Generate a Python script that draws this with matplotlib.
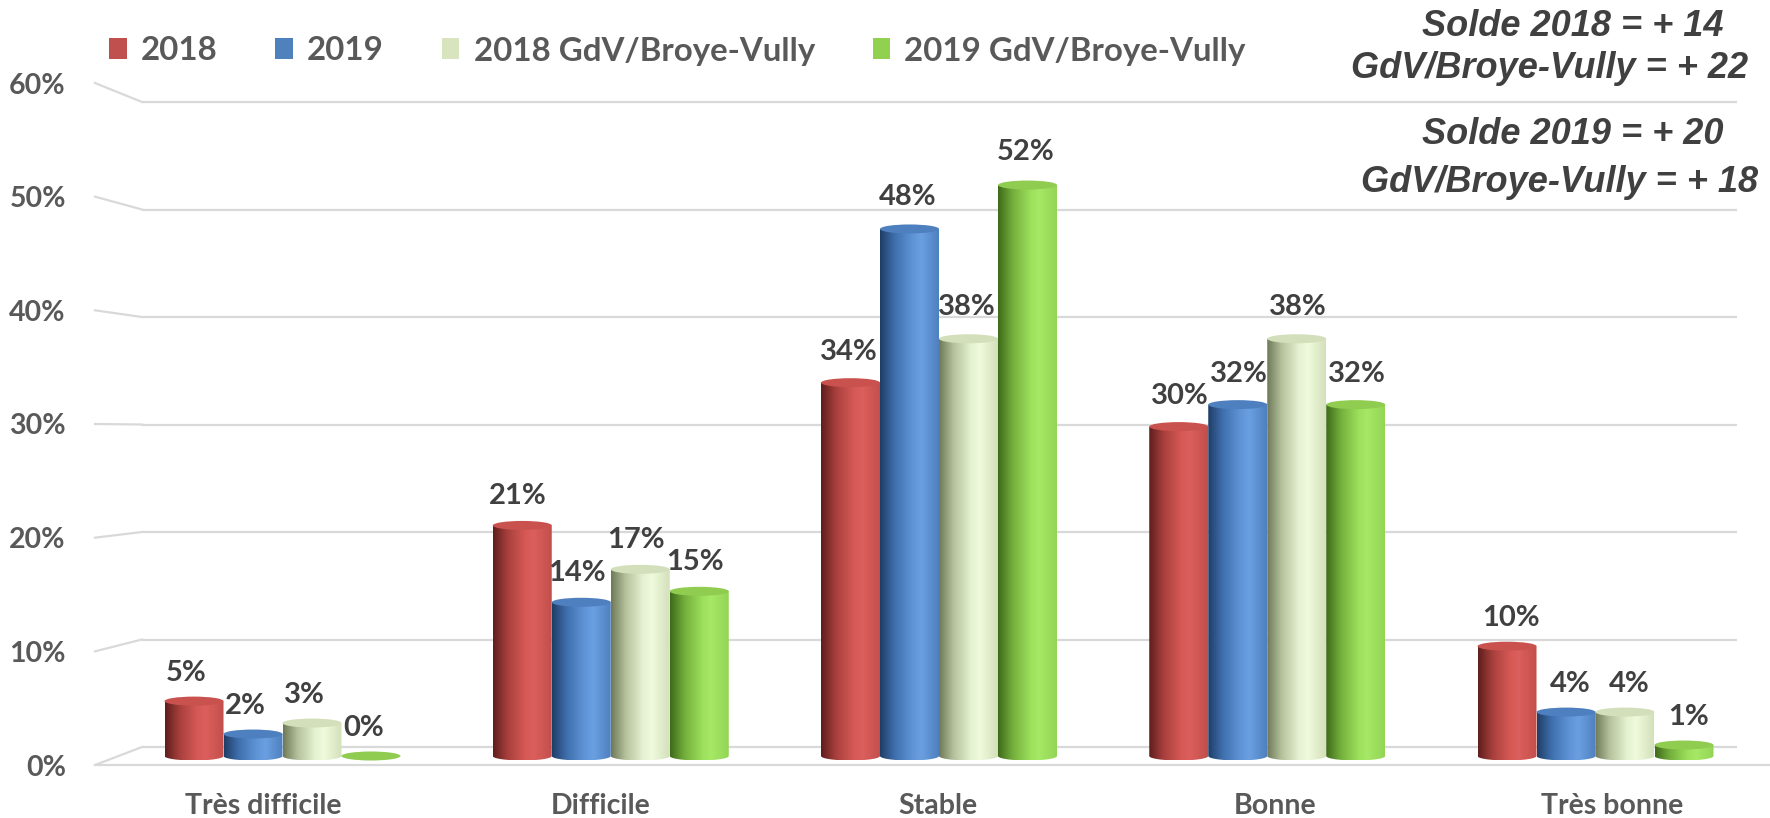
import numpy as np
import matplotlib
matplotlib.use('Agg')
import matplotlib.pyplot as plt
from matplotlib.colors import LinearSegmentedColormap
from matplotlib.patches import Ellipse, Patch, PathPatch
from matplotlib.path import Path
from matplotlib.lines import Line2D

# ---------------- data ----------------
categories = ['Très difficile', 'Difficile', 'Stable', 'Bonne', 'Très bonne']
series_names = ['2018', '2019', '2018 GdV/Broye-Vully', '2019 GdV/Broye-Vully']
v2018 = [5, 21, 34, 30, 10]
v2019 = [2, 14, 48, 32, 4]
v2018_gdv = [3, 17, 38, 38, 4]
v2019_gdv = [0, 15, 52, 32, 1]
yticks = [0, 10, 20, 30, 40, 50, 60]
solde_lines = ['Solde 2018 = + 14', 'GdV/Broye-Vully = + 22',
               'Solde 2019 = + 20', 'GdV/Broye-Vully = + 18']

series_values = [v2018, v2019, v2018_gdv, v2019_gdv]

# ---------------- styles ----------------
legend_colors = ['#C0504D', '#4F81BD', '#D7E4BD', '#92D050']
gradients = [
    ['#5E1E1C', '#A8403D', '#D65956', '#DB5F5C', '#C24E4B'],
    ['#1F3E66', '#3F6FAD', '#5E94D6', '#6AA0E2', '#4F80BE'],
    ['#6E7858', '#B5C29C', '#E6F2D2', '#EFFADC', '#D3E0BA'],
    ['#3E6A1A', '#74AF3C', '#9BDF5B', '#A6E966', '#93D454'],
]
grad_pos = [0.0, 0.25, 0.55, 0.7, 1.0]
top_colors = ['#C9524F', '#4E7FBF', '#D3DFBA', '#8FCC50']

FONT = 'Lato'
GRID = '#D9D9D9'
TXT = '#595959'
DLBL = '#404040'

W, H = 1770, 818
fig = plt.figure(figsize=(W / 100, H / 100), dpi=100)


def fx(px):
    return px / W


def fy(py):
    return 1 - py / H


# ---------------- back wall (gridlines) ----------------
ax_wall = fig.add_axes([fx(142), fy(747), fx(1737) - fx(142), fy(102) - fy(747)])
ax_wall.set_xlim(0, 1)
ax_wall.set_ylim(0, 60)
ax_wall.hlines(yticks, 0, 1, colors=GRID, lw=1.6, clip_on=False)
ax_wall.axis('off')

# ---------------- front plane (axis labels, floor line) ----------------
ax_front = fig.add_axes([fx(95), fy(765), fx(1770) - fx(95), fy(83) - fy(765)])
ax_front.set_ylim(0, 60)
ax_front.set_xlim(-0.5, 4.469)
ax_front.patch.set_alpha(0)
for s in ['top', 'right', 'left']:
    ax_front.spines[s].set_visible(False)
ax_front.spines['bottom'].set_color(GRID)
ax_front.spines['bottom'].set_linewidth(1.6)
ax_front.set_yticks(yticks)
ax_front.set_yticklabels([f'{t}%' for t in yticks])
ax_front.set_xticks(range(len(categories)))
ax_front.set_xticklabels(categories)
ax_front.tick_params(axis='y', length=0, pad=21)
ax_front.tick_params(axis='x', length=0, pad=20)
for lab in ax_front.get_yticklabels() + ax_front.get_xticklabels():
    lab.set_fontfamily(FONT)
    lab.set_fontweight('bold')
    lab.set_fontsize(20.5)
    lab.set_color(TXT)

# slanted connectors between front axis and back wall
inv = fig.transFigure.inverted()
for k in yticks:
    p_front = inv.transform(ax_front.transData.transform((-0.5, k)))
    p_back = inv.transform(ax_wall.transData.transform((0, k)))
    fig.add_artist(Line2D([p_front[0], p_back[0]], [p_front[1], p_back[1]],
                          transform=fig.transFigure, color=GRID, lw=1.6))

# ---------------- cylinders ----------------
ax_bar = fig.add_axes([0, 0, 1, 1])
ax_bar.patch.set_alpha(0)
ax_bar.axis('off')

bw = 59 / 328.25
eh = 4.5 / 10.98
grad_img = np.linspace(0, 1, 256).reshape(1, -1)
n = len(series_values)

for si, vals in enumerate(series_values):
    cmap = LinearSegmentedColormap.from_list(f'c{si}', list(zip(grad_pos, gradients[si])))
    for ci, v in enumerate(vals):
        xc = ci + (si - (n - 1) / 2) * bw
        x0, x1 = xc - bw / 2, xc + bw / 2
        if v > 0:
            t = np.linspace(np.pi, 2 * np.pi, 40)
            verts = [(x0, v), (x0, 0)] + [(xc + bw / 2 * np.cos(a), eh * np.sin(a)) for a in t] + [(x1, v), (x0, v)]
            codes = [Path.MOVETO] + [Path.LINETO] * (len(verts) - 2) + [Path.CLOSEPOLY]
            clip = PathPatch(Path(verts, codes), transform=ax_bar.transData)
            im = ax_bar.imshow(grad_img, cmap=cmap, extent=[x0, x1, -eh, v],
                               aspect='auto', origin='lower', interpolation='bilinear', zorder=2)
            im.set_clip_path(clip)
        ax_bar.add_patch(Ellipse((xc, v), bw, 2 * eh, facecolor=top_colors[si],
                                 edgecolor='none', zorder=3))
        gap_px = 4.5 + 15 + 0.1 * v
        dx_px = -7.5 + 2.9 * ci
        ax_bar.annotate(f'{v}%', xy=(xc, v), xytext=(dx_px * 0.72, gap_px * 0.72),
                        textcoords='offset points', ha='center', va='baseline',
                        fontsize=21, fontweight='bold', color=DLBL, family=FONT, zorder=4)

ax_bar.set_xlim((0 - 282.5) / 328.25, (W - 282.5) / 328.25)
ax_bar.set_ylim((756 - H) / 10.98, 756 / 10.98)

# ---------------- legend ----------------
handles = [Patch(facecolor=c, edgecolor='none') for c in legend_colors]
leg = fig.legend(handles, series_names, loc='center left', bbox_to_anchor=(fx(109), fy(51)),
                 ncol=4, frameon=False, borderpad=0, borderaxespad=0,
                 handlelength=0.53, handleheight=0.59, handletextpad=0.43,
                 columnspacing=1.75, prop={'family': FONT, 'weight': 'bold', 'size': 23.8})
for t in leg.get_texts():
    t.set_color(TXT)

# ---------------- solde annotations ----------------
solde_pos = [(1573, 27), (1550, 68), (1573, 134), (1560, 182)]
for txt, (px, py) in zip(solde_lines, solde_pos):
    fig.text(fx(px), fy(py), txt, ha='center', va='center', fontsize=26,
             fontweight='bold', fontstyle='italic', family='Liberation Sans', color=DLBL)

fig.savefig('out.png', dpi=100)
